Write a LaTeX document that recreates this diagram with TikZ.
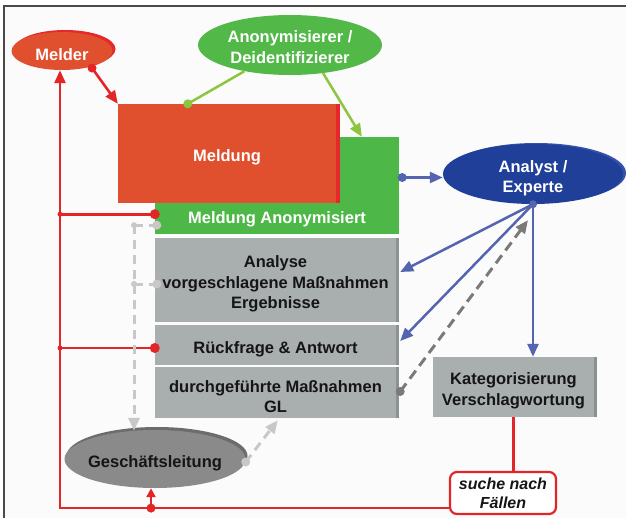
\documentclass[tikz,border=0pt]{standalone}
\usepackage{fontspec}
\setmainfont{Liberation Sans}
\usetikzlibrary{shapes.geometric,arrows.meta,calc,shadows}
\definecolor{melderred}{HTML}{E0502F}
\definecolor{rimred}{HTML}{E6282A}
\definecolor{linered}{HTML}{E42528}
\definecolor{boxgreen}{HTML}{4DB847}
\definecolor{anongreen}{HTML}{52B848}
\definecolor{lightgreen}{HTML}{8CC63F}
\definecolor{ellblue}{HTML}{1F3F98}
\definecolor{rimblue}{HTML}{3551AE}
\definecolor{lineblue}{HTML}{5464B0}
\definecolor{boxgray}{HTML}{A9AFAE}
\definecolor{edgegray}{HTML}{8C9291}
\definecolor{glgray}{HTML}{8A8A8B}
\definecolor{glrim}{HTML}{6C6C6C}
\definecolor{darkdash}{HTML}{7A7A7A}
\definecolor{lightdash}{HTML}{C8C8C8}
\definecolor{bgc}{HTML}{FBFBFB}
\definecolor{framec}{HTML}{4A4A4A}
\definecolor{txtdark}{HTML}{151515}
\begin{document}
\begin{tikzpicture}[x=1pt,y=-1pt,
  lbl/.style={font=\fontsize{16.5}{20.5}\selectfont\bfseries, align=center, yshift=-4pt},
  wlbl/.style={lbl, text=white},
  dlbl/.style={lbl, text=txtdark},
  ell/.style={ellipse, inner sep=0pt},
  graybox/.style={rectangle, fill=boxgray, inner sep=0pt,
    drop shadow={shadow xshift=3pt, shadow yshift=0pt, fill=edgegray, opacity=1}},
  redline/.style={draw=linered, line width=2.6pt},
  greenline/.style={draw=lightgreen, line width=2.5pt},
  blueline/.style={draw=lineblue, line width=2.5pt},
  darkdashed/.style={draw=darkdash, line width=3pt, dash pattern=on 10pt off 6pt},
  lightdashed/.style={draw=lightdash, line width=3pt, dash pattern=on 9pt off 6pt},
  tip/.style={-{Triangle[length=13pt,width=11pt]}}
]
\useasboundingbox (0,0) rectangle (626,522);
\fill[white] (0,0) rectangle (626,522);
\fill[bgc] (4,6) rectangle (626,518);
\draw[framec, line width=1.2pt] (626,6) -- (4,6) -- (4,518);

% nodes
\node[ell, fill=melderred, minimum width=101pt, minimum height=38pt,
  drop shadow={shadow xshift=3pt, shadow yshift=2pt, fill=rimred, opacity=1},
  label={[wlbl]center:Melder}] (melder) at (62,51) {};
\node[ell, fill=anongreen, minimum width=184pt, minimum height=60pt,
  label={[wlbl, yshift=2pt]center:Anonymisierer /\\Deidentifizierer}] (anon) at (290,45) {};
\node[rectangle, fill=boxgreen, inner sep=0pt, minimum width=244pt, minimum height=97pt,
  label={[wlbl, yshift=-29.5pt]center:Meldung Anonymisiert}] (anonym) at (277,185.5) {};
\node[rectangle, fill=melderred, inner sep=0pt, minimum width=218pt, minimum height=99pt,
  drop shadow={shadow xshift=4pt, shadow yshift=0pt, fill=rimred, opacity=1},
  label={[wlbl]center:Meldung}] (meldung) at (227,153.5) {};
\node[graybox, minimum width=241pt, minimum height=84pt,
  label={[dlbl]center:Analyse\\vorgeschlagene Maßnahmen\\Ergebnisse}] (analyse) at (275.5,280) {};
\node[graybox, minimum width=241pt, minimum height=40pt,
  label={[dlbl]center:Rückfrage \& Antwort}] (rueck) at (275.5,345) {};
\node[graybox, minimum width=241pt, minimum height=51pt,
  label={[dlbl]center:durchgeführte Maßnahmen\\GL}] (durch) at (275.5,392.5) {};
\node[graybox, minimum width=161pt, minimum height=60pt,
  label={[dlbl]center:Kategorisierung\\Verschlagwortung}] (kat) at (513.5,387) {};
\node[ell, fill=ellblue, minimum width=180pt, minimum height=60pt,
  drop shadow={shadow xshift=3pt, shadow yshift=1pt, fill=rimblue, opacity=1},
  label={[wlbl]center:Analyst /\\Experte}] (analyst) at (533,174) {};
\node[ell, fill=glgray, minimum width=181pt, minimum height=58pt,
  drop shadow={shadow xshift=2pt, shadow yshift=3pt, fill=glrim, opacity=1},
  label={[dlbl]center:Geschäftsleitung}] (gl) at (155,459) {};
\node[rectangle, rounded corners=7pt, draw=linered, line width=2.2pt, fill=white, inner sep=0pt,
  minimum width=106pt, minimum height=42pt, align=center, text=txtdark,
  font=\fontsize{16}{19}\selectfont\bfseries\itshape] (suche) at (503,493) {suche nach\\Fällen};

% red connectors
\coordinate (md) at ($(melder.center)+(30,17)$);
\draw[redline, tip] (md) -- (meldung.north west);
\fill[linered] (md) circle (4.5pt);
\coordinate (rb) at ($(suche.south west)+(0,-7)$);
\coordinate (mb) at ($(melder.south)+(-2,0)$);
\draw[redline, tip] (rb) -- (mb |- rb) -- (mb);
\coordinate (gb) at ($(gl.south)+(-4,0)$);
\draw[redline, -{Triangle[length=9pt,width=9pt]}] (gb |- rb) -- (gb);
\fill[linered] (gb |- rb) circle (4.5pt);
\coordinate (r1) at ($(anonym.south west)+(0,-20)$);
\coordinate (r2) at ($(rueck.west)+(0,3)$);
\draw[redline] (mb |- r1) -- (r1);
\draw[redline] (mb |- r2) -- (r2);
\fill[linered] (r1) circle (5pt) (r2) circle (5pt) (mb |- r1) circle (2.5pt) (mb |- r2) circle (2.5pt);
\coordinate (ks) at (kat.south);
\draw[redline] (ks) -- (ks |- suche.north);

% green connectors
\coordinate (gd) at ($(meldung.north west)+(70,0)$);
\draw[greenline] (gd) -- (anon);
\fill[lightgreen] (gd) circle (4.5pt);
\draw[greenline, tip] ($(anon.center)+(33,28)$) -- ($(anonym.north west)+(207,0)$);

% blue connectors
\coordinate (bs) at ($(anonym.east)+(3,-8)$);
\draw[blueline, tip] (bs) -- (bs -| analyst.west);
\fill[lineblue] (bs) circle (4.5pt);
\coordinate (as) at (analyst.south);
\draw[blueline, tip] (as) -- ($(analyse.east)+(4,-8)$);
\draw[blueline, tip] (as) -- ($(rueck.east)+(4,-4)$);
\draw[blueline, tip] (as) -- (as |- kat.north);
\fill[lineblue] (as) circle (4pt);

% dark dashed
\coordinate (dd) at ($(durch.east)+(4,-1)$);
\draw[darkdashed, tip] (dd) -- ($(analyst.south)+(-5,16)$);
\fill[darkdash] (dd) circle (4.5pt);

% light dashed
\coordinate (l1) at ($(anonym.south west)+(2,-9)$);
\coordinate (l2) at ($(analyse.west)+(2,4)$);
\coordinate (lt) at ($(gl.north)+(-21,1)$);
\draw[lightdashed] (l1 -| lt) -- (l1);
\draw[lightdashed] (l2 -| lt) -- (l2);
\draw[lightdashed, tip] (l1 -| lt) -- (lt);
\fill[lightdash] (l1) circle (4.5pt) (l2) circle (4.5pt) (l1 -| lt) circle (3pt) (l2 -| lt) circle (3pt);
\coordinate (ge) at ($(gl.east)+(0,3)$);
\draw[lightdashed, tip] (ge) -- ($(durch.south west)+(123,2)$);
\fill[lightdash] (ge) circle (4.5pt);
\end{tikzpicture}
\end{document}
